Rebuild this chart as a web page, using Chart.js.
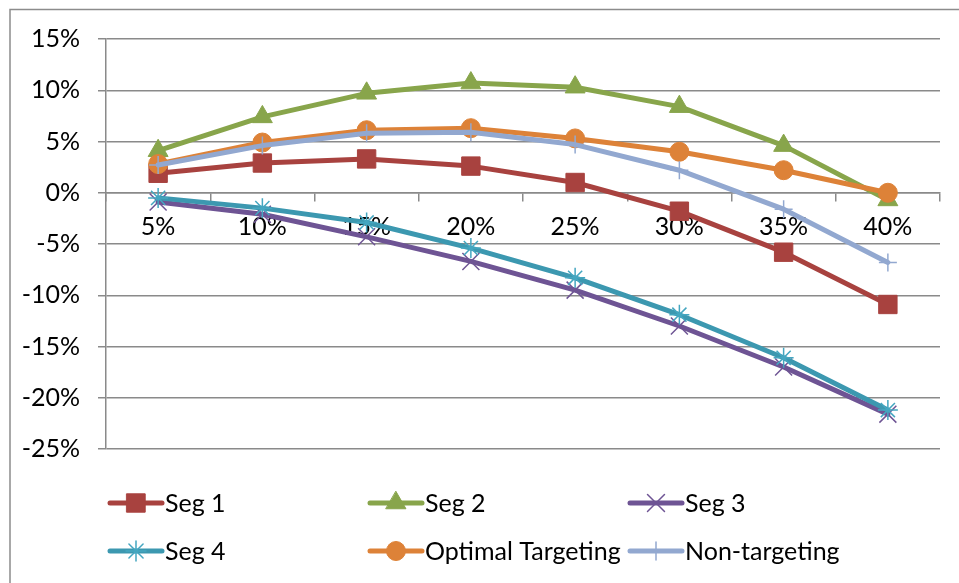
<!DOCTYPE html>
<html>
<head>
<meta charset="utf-8">
<script src="https://cdn.jsdelivr.net/npm/chart.js@4/dist/chart.umd.min.js"></script>
<style>
  html, body { margin: 0; padding: 0; background: #ffffff; }
  #wrap { position: relative; width: 959px; height: 583px; }
</style>
</head>
<body>
<div id="wrap"><canvas id="chart" width="959" height="583"></canvas></div>
<script>
// Targeting share on the x axis, change in outcome (%) per segment on the y axis
const categories = ['5%', '10%', '15%', '20%', '25%', '30%', '35%', '40%'];
const seriesNames = ['Seg 1', 'Seg 2', 'Seg 3', 'Seg 4', 'Optimal Targeting', 'Non-targeting'];
const seg1 = [1.9, 2.9, 3.3, 2.6, 1.0, -1.8, -5.8, -10.9];
const seg2 = [4.1, 7.4, 9.7, 10.7, 10.3, 8.4, 4.6, -0.7];
const seg3 = [-0.9, -2.1, -4.3, -6.7, -9.5, -13.0, -17.0, -21.6];
const seg4 = [-0.5, -1.5, -2.9, -5.4, -8.3, -11.9, -16.1, -21.2];
const optimalTargeting = [2.8, 4.9, 6.1, 6.3, 5.3, 4.0, 2.2, 0.0];
const nonTargeting = [2.7, 4.6, 5.8, 5.9, 4.7, 2.2, -1.6, -6.8];
const yTicks = [-25, -20, -15, -10, -5, 0, 5, 10, 15];

const FONT = 'Lato, "Liberation Sans", sans-serif';
const FONT_SIZE = 25;

function series(label, data, color, style, radius, border, markerColor) {
  return {
    label, data,
    borderColor: color,
    backgroundColor: color,
    borderWidth: 5,
    borderJoinStyle: 'round',
    borderCapStyle: 'round',
    tension: 0,
    pointStyle: style,
    pointRadius: radius,
    pointHoverRadius: radius,
    pointBorderWidth: border,
    pointBackgroundColor: markerColor || color,
    pointBorderColor: markerColor || color
  };
}

const datasets = [
  series(seriesNames[0], seg1, '#A8423F', 'rect', 13, 1),
  series(seriesNames[1], seg2, '#88A54B', 'triangle', 11.5, 1),
  series(seriesNames[2], seg3, '#6E5494', 'crossRot', 12, 1.5),
  series(seriesNames[3], seg4, '#3C98B0', 'star', 10, 1.5, '#44A6C0'),
  series(seriesNames[4], optimalTargeting, '#DD8238', 'circle', 9.5, 1),
  series(seriesNames[5], nonTargeting, '#92A8D0', 'cross', 9, 1.5)
];
// later series are painted over earlier ones
datasets.forEach((d, i) => { d.order = datasets.length - i; });

// outer frame of the chart area
const framePlugin = {
  id: 'frame',
  beforeDraw(chart) {
    const ctx = chart.ctx;
    ctx.save();
    ctx.strokeStyle = '#8C8C8C';
    ctx.lineWidth = 1.5;
    ctx.beginPath();
    ctx.moveTo(10, chart.height + 2);
    ctx.lineTo(10, 9.5);
    ctx.lineTo(chart.width + 2, 9.5);
    ctx.stroke();
    ctx.restore();
  }
};

// three-column legend below the plot
const gridLegend = {
  id: 'gridLegend',
  afterDraw(chart) {
    const ctx = chart.ctx;
    const left = chart.chartArea.left + 2;
    chart.data.datasets.forEach((ds, i) => {
      const col = i % 3, row = Math.floor(i / 3);
      const x = left + col * 260;
      const y = 503 + row * 48;
      ctx.save();
      ctx.strokeStyle = ds.borderColor;
      ctx.lineWidth = 5;
      ctx.lineCap = 'round';
      ctx.beginPath();
      ctx.moveTo(x + 2, y);
      ctx.lineTo(x + 54, y);
      ctx.stroke();
      ctx.fillStyle = ds.pointBackgroundColor;
      ctx.strokeStyle = ds.pointBorderColor;
      ctx.lineWidth = ds.pointBorderWidth;
      Chart.helpers.drawPoint(ctx, {
        pointStyle: ds.pointStyle,
        radius: ds.pointRadius,
        borderWidth: ds.pointBorderWidth,
        rotation: 0
      }, x + 28, y);
      ctx.fillStyle = '#000000';
      ctx.font = FONT_SIZE + 'px ' + FONT;
      ctx.textAlign = 'left';
      ctx.textBaseline = 'alphabetic';
      ctx.fillText(ds.label, x + 57, y + 8.5);
      ctx.restore();
    });
  }
};

new Chart(document.getElementById('chart'), {
  type: 'line',
  data: { labels: categories, datasets },
  plugins: [framePlugin, gridLegend],
  options: {
    responsive: false,
    animation: false,
    devicePixelRatio: 1,
    layout: { padding: { top: 39, right: 19, bottom: 134, left: 0 } },
    plugins: {
      legend: { display: false },
      tooltip: { enabled: false }
    },
    scales: {
      x: {
        type: 'category',
        position: { y: 0 },
        offset: true,
        grid: {
          display: true,
          offset: true,
          drawOnChartArea: false,
          drawTicks: true,
          tickLength: 8,
          color: '#8A8A8A',
          lineWidth: 1.5
        },
        border: { display: true, color: '#8A8A8A', width: 1.5 },
        ticks: {
          color: '#000000',
          font: { family: FONT, size: FONT_SIZE },
          padding: 11,
          maxRotation: 0,
          autoSkip: false
        }
      },
      y: {
        min: -25,
        max: 15,
        afterFit(scale) { scale.width = 106; },
        afterBuildTicks(scale) { scale.ticks = yTicks.map(v => ({ value: v })); },
        grid: {
          color: '#8A8A8A',
          lineWidth: 1.5,
          drawTicks: true,
          tickLength: 8
        },
        border: { display: true, color: '#8A8A8A', width: 1.5 },
        ticks: {
          color: '#000000',
          font: { family: FONT, size: FONT_SIZE },
          padding: 18,
          callback: v => v + '%'
        }
      }
    }
  }
});
</script>
</body>
</html>
